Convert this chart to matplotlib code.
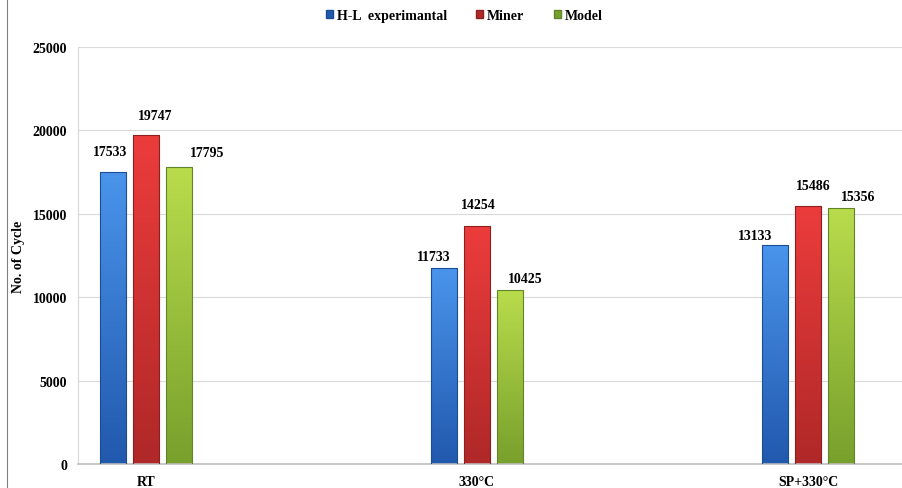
import matplotlib.pyplot as plt
import numpy as np
from matplotlib.colors import LinearSegmentedColormap
from matplotlib.patches import Patch
from matplotlib.lines import Line2D

# data
categories = ['RT', '330°C', 'SP+330°C']
series = ['H-L  experimantal', 'Miner', 'Model']
hl_exp = [17533, 11733, 13133]
miner = [19747, 14254, 15486]
model = [17795, 10425, 15356]
values = [hl_exp, miner, model]

# label nudges in pixels (the labels were hand placed in the original)
label_nudge = [[(-3, 20), (-10, 12), (-20, 9)],
               [(9, 19), (1, 22), (5, 20)],
               [(28, 15), (15, 12), (17, 11)]]

# gradient colours (top -> bottom)
grads = [('#4a94ec', '#2159ad'), ('#ec3c3c', '#b02828'), ('#b9dc4c', '#78a02c')]
edges = ['#1c4c94', '#8e1f1f', '#61832a']

plt.rcParams['font.family'] = ['Liberation Serif', 'DejaVu Serif']
plt.rcParams['font.weight'] = 'bold'

fig = plt.figure(figsize=(9.03, 4.89), dpi=100)
ax = fig.add_axes([78 / 903, 1 - 465 / 489, 825 / 903, (465 - 48) / 489])

x = np.arange(len(categories))
width = 0.079
step = 0.1
grad = np.linspace(0, 1, 100).reshape(-1, 1)

for i, vals in enumerate(values):
    cmap = LinearSegmentedColormap.from_list('g%d' % i, [grads[i][1], grads[i][0]])
    bars = ax.bar(x + (i - 1) * step, vals, width, color='none',
                  edgecolor=edges[i], linewidth=0.8, zorder=3)
    for j, (b, v) in enumerate(zip(bars, vals)):
        x0 = b.get_x()
        im = ax.imshow(grad, cmap=cmap, aspect='auto', origin='lower',
                       extent=[x0, x0 + b.get_width(), 0, v], zorder=2)
        im.set_clip_path(b)
        ax.annotate(str(v), (b.get_x() + b.get_width() / 2, v),
                    xytext=label_nudge[i][j], textcoords='offset pixels',
                    ha='center', va='center', fontsize=10, fontweight='bold')

ax.set_xlim(-0.205, 2.287)
ax.set_ylim(0, 25000)
ax.set_yticks(np.arange(0, 25001, 5000))
ax.set_xticks(x)
ax.set_xticklabels(categories)
ax.tick_params(axis='both', length=0, labelsize=10, pad=8)
ax.grid(axis='y', color='#d9d9d9', linewidth=0.8, zorder=0)
ax.set_axisbelow(True)
for s in ['top', 'right']:
    ax.spines[s].set_visible(False)
ax.spines['left'].set_color('#d9d9d9')
ax.spines['bottom'].set_color('#bfbfbf')
ax.spines['bottom'].set_linewidth(1.2)
ax.set_ylabel('No. of Cycle', fontsize=10, fontweight='bold')
ax.yaxis.set_label_coords(-0.064, 0.5)

handles = [Patch(facecolor=grads[i][1], edgecolor=edges[i]) for i in range(3)]
fig.legend(handles, series, loc='center', bbox_to_anchor=(0.514, 0.967), ncol=3,
           frameon=False, fontsize=10, handlelength=0.5, handleheight=0.5,
           handletextpad=0.3, columnspacing=2.1)

fig.add_artist(Line2D([7 / 903, 7 / 903], [0, 1], color='#808080', linewidth=0.8))

fig.savefig('out.png', dpi=100)
